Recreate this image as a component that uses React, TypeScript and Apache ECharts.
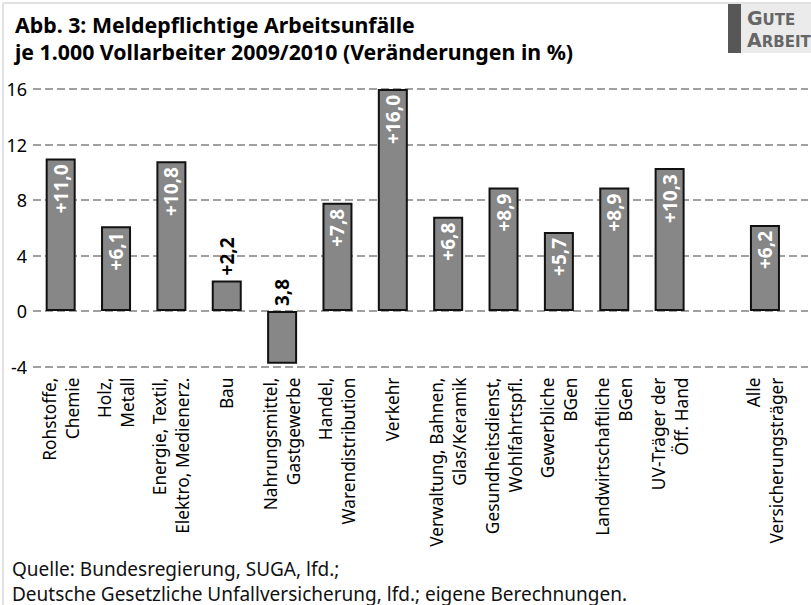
import React, { useEffect, useRef } from 'react';
import * as echarts from 'echarts';

const categories = [
  'Rohstoffe,\nChemie',
  'Holz,\nMetall',
  'Energie, Textil,\nElektro, Medienerz.',
  'Bau',
  'Nahrungsmittel,\nGastgewerbe',
  'Handel,\nWarendistribution',
  'Verkehr',
  'Verwaltung, Bahnen,\nGlas/Keramik',
  'Gesundheitsdienst,\nWohlfahrtspfl.',
  'Gewerbliche\nBGen',
  'Landwirtschaftliche\nBGen',
  'UV-Träger der\nÖff. Hand',
];
const values = [11.0, 6.1, 10.8, 2.2, -3.8, 7.8, 16.0, 6.8, 8.9, 5.7, 8.9, 10.3];
const valueLabels = ['+11,0', '+6,1', '+10,8', '+2,2', '3,8', '+7,8', '+16,0', '+6,8', '+8,9', '+5,7', '+8,9', '+10,3'];

const totalCategory = 'Alle\nVersicherungsträger';
const totalValue = 6.2;
const totalLabel = '+6,2';

const yMin = -4;
const yMax = 16;
const yInterval = 4;

const titleText = 'Abb. 3: Meldepflichtige Arbeitsunfälle\nje 1.000 Vollarbeiter 2009/2010 (Veränderungen in %)';
const sourceText = 'Quelle: Bundesregierung, SUGA, lfd.;\nDeutsche Gesetzliche Unfallversicherung, lfd.; eigene Berechnungen.';

const labelFor = (v: number, text: string) => {
  const inside = Math.abs(v) >= 4;
  return inside
    ? { show: true, position: 'insideTop', rotate: 90, align: 'right', verticalAlign: 'middle', distance: 6, color: '#fff', formatter: text }
    : { show: true, position: 'top', rotate: 90, align: 'left', verticalAlign: 'middle', distance: 5, color: '#000', formatter: text };
};

export default function App() {
  const ref = useRef<HTMLDivElement>(null);
  useEffect(() => {
    if (!ref.current) return;
    const chart = echarts.init(ref.current, undefined, { renderer: 'svg' });
    const axisLabelStyle = {
      rotate: 90,
      interval: 0,
      margin: 11,
      fontSize: 17.3,
      lineHeight: 23,
      color: '#000',
      fontFamily: 'Noto Sans',
    };
    const mainAxisData = [...categories, '', ''];
    const totalAxisData = [...Array(8).fill(''), totalCategory];
    const barStyle = { color: '#878787', borderColor: '#111', borderWidth: 2 };
    const logoRich = {
      a: { fontFamily: 'DejaVu Sans', fontWeight: 'bold', fontSize: 19, lineHeight: 19, verticalAlign: 'bottom', fill: '#666' },
      b: { fontFamily: 'DejaVu Sans', fontWeight: 'bold', fontSize: 15, lineHeight: 19, verticalAlign: 'bottom', fill: '#666' },
    };
    chart.setOption({
      animation: false,
      backgroundColor: '#fff',
      title: {
        text: titleText,
        left: 10,
        top: 6,
        textStyle: { fontFamily: 'Noto Sans', fontWeight: 'bold', fontSize: 21.3, lineHeight: 27, color: '#000' },
      },
      grid: { left: 33, right: 3, top: 89, bottom: 238.5, containLabel: false },
      xAxis: [
        {
          type: 'category',
          data: mainAxisData,
          position: 'bottom',
          axisLine: { show: false, onZero: false },
          axisTick: { show: false },
          splitLine: { show: false },
          axisLabel: axisLabelStyle,
        },
        {
          type: 'category',
          data: totalAxisData,
          position: 'bottom',
          axisLine: { show: false, onZero: false },
          axisTick: { show: false },
          splitLine: { show: false },
          axisLabel: axisLabelStyle,
        },
      ],
      yAxis: {
        type: 'value',
        min: yMin,
        max: yMax,
        interval: yInterval,
        axisLine: { show: false },
        axisTick: { show: false },
        axisLabel: { fontSize: 18, color: '#000', margin: 6, fontFamily: 'Noto Sans' },
        splitLine: { lineStyle: { color: '#a0a0a0', width: 2, type: [8, 4] } },
      },
      series: [
        {
          type: 'bar',
          xAxisIndex: 0,
          barWidth: 30,
          itemStyle: barStyle,
          label: { fontSize: 19, fontWeight: 'bold', fontFamily: 'Noto Sans' },
          data: values.map((v, i) => ({ value: v, label: labelFor(v, valueLabels[i]) })),
        },
        {
          type: 'bar',
          xAxisIndex: 1,
          barWidth: 30,
          itemStyle: barStyle,
          label: { fontSize: 19, fontWeight: 'bold', fontFamily: 'Noto Sans' },
          data: totalAxisData.map((c) => (c === totalCategory ? { value: totalValue, label: labelFor(totalValue, totalLabel) } : '-')),
        },
      ],
      graphic: [
        { type: 'line', shape: { x1: 3, y1: 3, x2: 811, y2: 3 }, style: { stroke: '#e2e2e2', lineWidth: 2 } },
        { type: 'line', shape: { x1: 3, y1: 3, x2: 3, y2: 605 }, style: { stroke: '#e2e2e2', lineWidth: 2 } },
        { type: 'rect', shape: { x: 741, y: 4, width: 70, height: 49 }, style: { fill: '#ebebeb' } },
        { type: 'rect', shape: { x: 728, y: 4, width: 13, height: 49 }, style: { fill: '#575757' } },
        { type: 'text', x: 747, y: 8, style: { text: '{a|G}{b|UTE}', rich: logoRich } },
        { type: 'text', x: 747, y: 30, style: { text: '{a|A}{b|RBEIT}', rich: logoRich } },
        {
          type: 'text',
          x: 12,
          y: 556,
          style: { text: sourceText, fontFamily: 'Noto Sans', fontSize: 19, lineHeight: 25, fill: '#111' },
        },
      ],
    });
    return () => chart.dispose();
  }, []);
  return <div ref={ref} style={{ position: 'fixed', left: 0, top: 0, width: 811, height: 605 }} />;
}
